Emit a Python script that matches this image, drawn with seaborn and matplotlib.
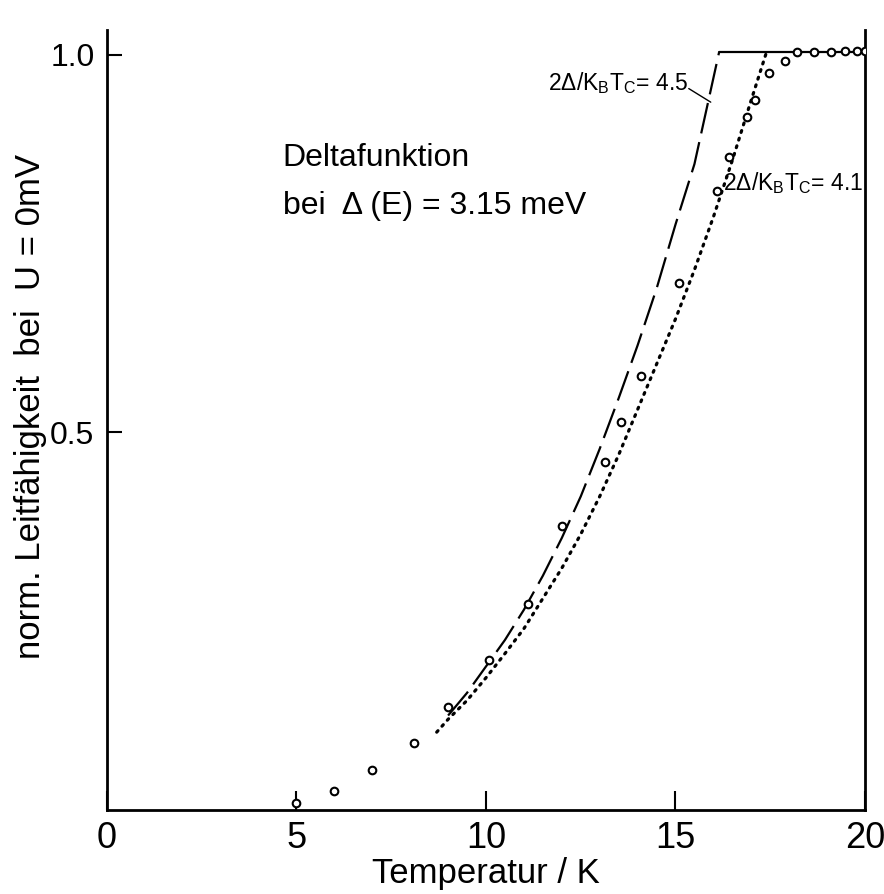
import matplotlib
matplotlib.use("Agg")
import matplotlib.pyplot as plt
import seaborn as sns
import pandas as pd

# measured points
meas_T = [5.0, 6.0, 7.0, 8.1, 9.0, 10.07, 11.1, 12.0, 13.15, 13.57, 14.1, 15.1,
          16.1, 16.4, 16.9, 17.1, 17.47, 17.9, 18.2, 18.65, 19.1, 19.47, 19.8, 20.0]
meas_G = [0.009, 0.025, 0.053, 0.088, 0.136, 0.199, 0.273, 0.376, 0.46, 0.513, 0.575, 0.698,
          0.819, 0.864, 0.918, 0.94, 0.975, 0.992, 1.004, 1.003, 1.004, 1.005, 1.005, 1.005]

# theory 2Δ/kTc = 4.5 (dashed)
th45_T = [9.0, 9.5, 10.0, 10.5, 11.0, 11.5, 12.0, 12.5, 13.0, 13.5, 14.0, 14.5, 15.0, 15.5, 16.15]
th45_G = [0.125, 0.155, 0.19, 0.225, 0.265, 0.31, 0.36, 0.415, 0.478, 0.545, 0.615, 0.69, 0.775, 0.855, 1.003]

# theory 2Δ/kTc = 4.1 (dotted)
th41_T = [8.7, 9.0, 9.5, 10.0, 10.5, 11.0, 11.5, 12.0, 12.5, 13.0, 13.5, 14.0, 14.5, 15.0,
          15.5, 16.0, 16.5, 17.0, 17.4]
th41_G = [0.103, 0.12, 0.145, 0.175, 0.207, 0.24, 0.28, 0.32, 0.365, 0.415, 0.47, 0.53, 0.59, 0.65,
          0.715, 0.785, 0.86, 0.94, 1.003]

# normal-state plateau
flat_T = [16.15, 20.0]
flat_G = [1.003, 1.003]

x_ticks = [0, 5, 10, 15, 20]
x_ticklabels = ["0", "5", "10", "15", "20"]
y_ticks = [0.5, 1.0]
y_ticklabels = ["0.5", "1.0"]

sns.set_style("ticks")
plt.rcParams["font.family"] = ["Liberation Sans", "DejaVu Sans"]
plt.rcParams["mathtext.default"] = "regular"
for key in ["text.color", "axes.labelcolor", "xtick.color", "ytick.color", "axes.edgecolor"]:
    plt.rcParams[key] = "black"

fig = plt.figure(figsize=(8.84, 8.94), dpi=100)
ax = fig.add_axes([0.121, 0.094, 0.8575, 0.872])

df45 = pd.DataFrame({"T": th45_T, "G": th45_G})
df41 = pd.DataFrame({"T": th41_T, "G": th41_G})
dff = pd.DataFrame({"T": flat_T, "G": flat_G})
dfm = pd.DataFrame({"T": meas_T, "G": meas_G})

sns.lineplot(data=df45, x="T", y="G", ax=ax, color="black", lw=1.6,
             sort=False, estimator=None)
ax.lines[-1].set_dashes([14, 4])
sns.lineplot(data=df41, x="T", y="G", ax=ax, color="black", lw=2.3,
             sort=False, estimator=None)
ax.lines[-1].set_dashes([0.6, 1.9])
ax.lines[-1].set_dash_capstyle("round")
sns.lineplot(data=dff, x="T", y="G", ax=ax, color="black", lw=1.6,
             sort=False, estimator=None)
sns.scatterplot(data=dfm, x="T", y="G", ax=ax, marker="o", s=30,
                facecolor="white", edgecolor="black", linewidth=1.5, zorder=5)

ax.set_xlim(0, 20)
ax.set_ylim(0, 1.032)
ax.set_xticks(x_ticks)
ax.set_xticklabels(x_ticklabels)
ax.set_yticks(y_ticks)
ax.set_yticklabels(y_ticklabels)
ax.tick_params(axis="x", direction="in", length=14, width=1.5, labelsize=26, pad=8)
ax.tick_params(axis="y", direction="in", length=11, width=1.5, labelsize=23, pad=9)
for s in ["left", "bottom", "right"]:
    ax.spines[s].set_linewidth(2.0)
    ax.spines[s].set_color("black")
ax.spines["top"].set_visible(False)

ax.set_xlabel("Temperatur / K", fontsize=25, labelpad=1)
ax.set_ylabel("norm. Leitfähigkeit  bei  U = 0mV", fontsize=25)
ax.yaxis.set_label_coords(-0.079, 0.517)

ax.text(4.64, 0.863, "Deltafunktion", fontsize=23, ha="left", va="center")
ax.text(4.64, 0.80, "bei  Δ (E) = 3.15 meV", fontsize=23, ha="left", va="center")

ax.text(15.33, 0.962, r"$2\Delta/K_BT_C$= 4.5", fontsize=16.5, ha="right", va="center")
ax.plot([15.35, 15.93], [0.955, 0.937], color="black", lw=1.0)
ax.text(16.25, 0.83, r"$2\Delta/K_BT_C$= 4.1", fontsize=16.5, ha="left", va="center")

fig.savefig("out.png", dpi=100)
